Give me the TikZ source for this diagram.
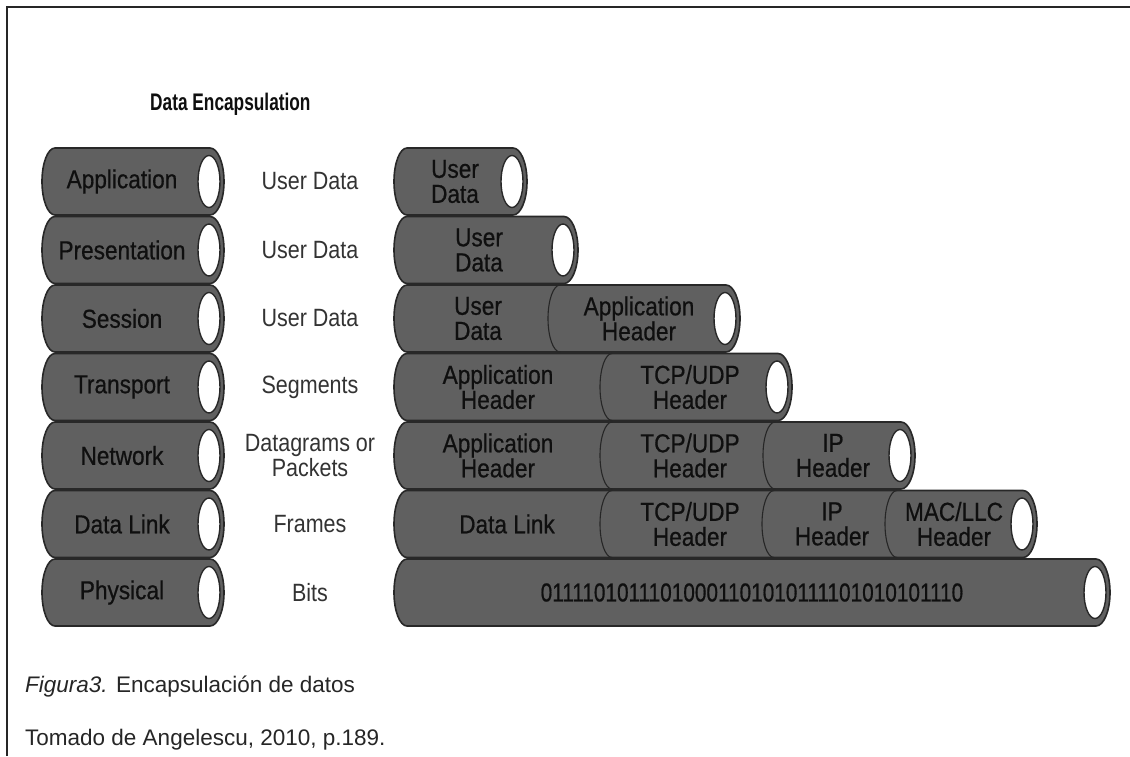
\documentclass[tikz,border=0pt]{standalone}
\usepackage{fontspec}
\newfontfamily\condfont[FakeStretch=0.87,FakeBold=0.6]{Liberation Sans}
\newfontfamily\bitsfont[FakeStretch=0.80,FakeBold=0.6]{Liberation Sans}
\newfontfamily\thinfont[FakeStretch=0.86]{Liberation Sans}
\newfontfamily\titlefont[FakeStretch=0.72]{Liberation Sans}
\newfontfamily\capfont{Liberation Sans}
\definecolor{cylfill}{RGB}{96,96,96}
\definecolor{cylline}{RGB}{40,40,40}
\definecolor{txt}{RGB}{15,15,15}
\newcommand\cylshape[3]{%
  \path[cylbody] (#1+13,#3-33.5) arc[start angle=90,end angle=270,x radius=13pt,y radius=33.5pt]
    -- (#2-14,#3+33.5) arc[start angle=-90,end angle=90,x radius=14pt,y radius=33.5pt] -- cycle;
  \path[cylhole] (#2-15,#3) ellipse[x radius=11pt,y radius=26pt];}
\newcommand\segsep[2]{%
  \draw[seppath] (#1+12,#2-33.5) arc[start angle=90,end angle=270,x radius=12pt,y radius=33.5pt];}
\begin{document}
\begin{tikzpicture}[x=1pt,y=-1pt,
  cylbody/.style={fill=cylfill,draw=cylline,line width=1.6pt},
  cylhole/.style={fill=white,draw=cylline,line width=1.4pt},
  seppath/.style={draw=black!85,line width=1.1pt},
  lab/.style={text=txt,align=center,font=\condfont\fontsize{26}{25}\selectfont,inner sep=0pt},
  bits/.style={text=txt,font=\bitsfont\fontsize{26}{25}\selectfont,inner sep=0pt},
  mid/.style={text=black!80,align=center,font=\thinfont\fontsize{25}{25}\selectfont,inner sep=0pt},
  captext/.style={text=black!85,anchor=base west,font=\capfont\fontsize{22.5}{26}\selectfont,inner sep=0pt}]
\useasboundingbox (0,0) rectangle (1130,756);
\fill[white] (0,0) rectangle (1130,756);
% frame
\draw[line width=2pt,black!85] (6.5,756) -- (6.5,7) -- (1130,7);
% title
\node[anchor=base west,inner sep=0pt,text=txt,font=\titlefont\bfseries\fontsize{24}{24}\selectfont] (title) at (150,110) {Data Encapsulation};
% left OSI layers
\foreach \yc/\nm/\lbl in {181.5/app/Application,250/pre/Presentation,318.5/ses/Session,387/tra/Transport,455.5/net/Network,524/dl/Data Link,592.5/phy/Physical}{
  \cylshape{42}{224}{\yc}
  \node[lab] (L\nm) at (122,\yc) {\lbl};
}
% middle labels
\node[mid] (Mapp) at (310,181.5) {User Data};
\node[mid] (Mpre) at (310,250) {User Data};
\node[mid] (Mses) at (310,318.5) {User Data};
\node[mid] (Mtra) at (310,387) {Segments};
\node[mid] (Mnet) at (310,455.5) {Datagrams or\\Packets};
\node[mid] (Mdl) at (310,524) {Frames};
\node[mid] (Mphy) at (310,592.5) {Bits};
% right encapsulation cylinders
\cylshape{394}{527}{181.5}
\node[lab] (R0a) at (455,181.5) {User\\Data};
\cylshape{394}{578}{250}
\node[lab] (R1a) at (479,250) {User\\Data};
\cylshape{394}{740}{318.5}
\segsep{548}{318.5}
\node[lab] (R2a) at (478,318.5) {User\\Data};
\node[lab] (R2b) at (639,318.5) {Application\\Header};
\cylshape{394}{792}{387}
\segsep{600}{387}
\node[lab] (R3a) at (498,387) {Application\\Header};
\node[lab] (R3b) at (690,387) {TCP/UDP\\Header};
\cylshape{394}{915}{455.5}
\segsep{600}{455.5}
\segsep{763}{455.5}
\node[lab] (R4a) at (498,455.5) {Application\\Header};
\node[lab] (R4b) at (690,455.5) {TCP/UDP\\Header};
\node[lab] (R4c) at (833,455.5) {IP\\Header};
\cylshape{394}{1037}{524}
\segsep{600}{524}
\segsep{762}{524}
\segsep{885}{524}
\node[lab] (R5a) at (507,524) {Data Link};
\node[lab] (R5b) at (690,524) {TCP/UDP\\Header};
\node[lab] (R5c) at (832,524) {IP\\Header};
\node[lab] (R5d) at (954,524) {MAC/LLC\\Header};
\cylshape{394}{1110}{592.5}
\node[bits] (R6a) at (752,592.5) {01111010111010001101010111101010101110};
% caption
\node[captext] (cap1) at (25,692) {{\itshape Figura3.} Encapsulación de datos};
\node[captext] (cap2) at (25,745) {Tomado de Angelescu, 2010, p.189.};
\end{tikzpicture}
\end{document}
